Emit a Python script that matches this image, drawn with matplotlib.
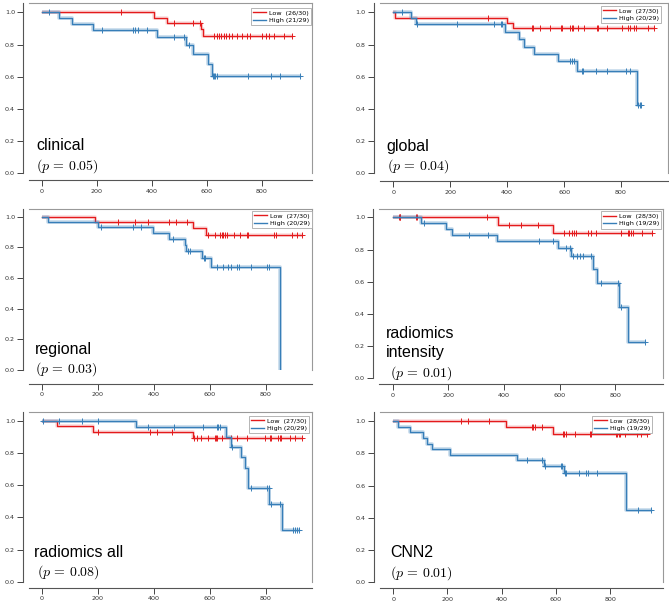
import numpy as np
import matplotlib
matplotlib.use("Agg")
import matplotlib.pyplot as plt

plt.rcParams['mathtext.fontset'] = 'cm'

# ---------------- data ----------------
panel_names = ["clinical", "global", "regional", "radiomics\nintensity", "radiomics all", "CNN2"]
panel_p = ["0.05", "0.04", "0.03", "0.01", "0.08", "0.01"]
low_labels = ["Low  (26/30)", "Low  (27/30)", "Low  (27/30)", "Low  (28/30)", "Low  (27/30)", "Low  (28/30)"]
high_labels = ["High (21/29)", "High (20/29)", "High (20/29)", "High (19/29)", "High (20/29)", "High (19/29)"]
x_ticks = [0, 200, 400, 600, 800]
y_ticks = [0.0, 0.2, 0.4, 0.6, 0.8, 1.0]

# clinical
clin_low_t = [0, 410, 455, 578, 588]
clin_low_s = [1.0, 0.967, 0.933, 0.895, 0.855]
clin_low_c = [287, 481, 549, 577, 627, 636, 645, 653, 662, 670, 680, 691, 710, 730, 745, 756, 800, 815, 828, 845, 880, 909]
clin_high_t = [0, 63, 111, 185, 421, 525, 549, 606, 620]
clin_high_s = [1.0, 0.965, 0.93, 0.893, 0.847, 0.795, 0.74, 0.677, 0.603]
clin_high_c = [28, 221, 333, 339, 352, 382, 481, 518, 537, 622, 627, 630, 639, 752, 833, 867, 939]

# global
glob_low_t = [0, 6, 400, 419]
glob_low_s = [1.0, 0.967, 0.933, 0.9]
glob_low_c = [334, 486, 492, 515, 550, 588, 591, 622, 626, 630, 650, 671, 717, 720, 749, 802, 825, 831, 847, 851, 896, 917]
glob_high_t = [0, 62, 81, 392, 443, 458, 494, 580, 646, 855]
glob_high_s = [1.0, 0.965, 0.93, 0.88, 0.835, 0.787, 0.742, 0.695, 0.637, 0.425]
glob_high_c = [29, 83, 222, 352, 377, 381, 622, 629, 634, 664, 666, 712, 749, 816, 832, 861, 866, 870]

# regional
reg_low_t = [0, 190, 539, 587]
reg_low_s = [1.0, 0.967, 0.925, 0.883]
reg_low_c = [274, 333, 379, 456, 480, 520, 593, 619, 637, 643, 649, 655, 661, 685, 708, 732, 736, 831, 836, 893, 911, 929]
reg_high_t = [0, 21, 202, 399, 456, 510, 516, 571, 604, 851]
reg_high_s = [1.0, 0.967, 0.933, 0.893, 0.853, 0.812, 0.775, 0.728, 0.673, 0.0]
reg_high_c = [212, 327, 353, 468, 521, 531, 578, 584, 625, 646, 664, 676, 696, 706, 746, 804, 811]

# radiomics intensity
int_low_t = [0, 380, 575]
int_low_s = [1.0, 0.955, 0.902]
int_low_c = [23, 25, 28, 83, 86, 338, 419, 460, 521, 617, 635, 643, 651, 657, 703, 713, 729, 820, 844, 849, 855, 865, 895, 930]
int_high_t = [0, 101, 192, 212, 376, 595, 641, 719, 735, 814, 847]
int_high_s = [1.0, 0.965, 0.929, 0.893, 0.855, 0.81, 0.762, 0.68, 0.595, 0.446, 0.223]
int_high_c = [113, 275, 341, 527, 577, 623, 638, 647, 663, 673, 685, 713, 747, 808, 819, 907]

# radiomics all
all_low_t = [0, 54, 185, 542]
all_low_s = [1.0, 0.967, 0.933, 0.895]
all_low_c = [202, 387, 411, 464, 545, 554, 569, 592, 619, 623, 627, 643, 676, 696, 732, 798, 815, 820, 843, 849, 854, 887, 905, 929]
all_high_t = [0, 337, 658, 676, 711, 726, 735, 812, 857]
all_high_s = [1.0, 0.96, 0.9, 0.84, 0.773, 0.71, 0.582, 0.485, 0.322]
all_high_c = [6, 63, 143, 202, 381, 473, 575, 625, 631, 637, 681, 746, 804, 811, 818, 851, 896, 905, 913, 920]

# CNN2
cnn_low_t = [0, 414, 590]
cnn_low_s = [1.0, 0.962, 0.92]
cnn_low_c = [248, 276, 354, 512, 517, 522, 549, 626, 630, 637, 670, 725, 731, 823, 827, 832, 837, 856, 900, 915, 937]
cnn_high_t = [0, 18, 61, 111, 123, 141, 209, 458, 555, 628, 857]
cnn_high_s = [1.0, 0.965, 0.93, 0.895, 0.86, 0.826, 0.792, 0.758, 0.72, 0.675, 0.45]
cnn_high_c = [495, 547, 559, 618, 624, 633, 636, 685, 712, 719, 752, 903, 952]

low_curves = [(clin_low_t, clin_low_s, clin_low_c), (glob_low_t, glob_low_s, glob_low_c),
              (reg_low_t, reg_low_s, reg_low_c), (int_low_t, int_low_s, int_low_c),
              (all_low_t, all_low_s, all_low_c), (cnn_low_t, cnn_low_s, cnn_low_c)]
high_curves = [(clin_high_t, clin_high_s, clin_high_c), (glob_high_t, glob_high_s, glob_high_c),
               (reg_high_t, reg_high_s, reg_high_c), (int_high_t, int_high_s, int_high_c),
               (all_high_t, all_high_s, all_high_c), (cnn_high_t, cnn_high_s, cnn_high_c)]

# ---------------- layout (pixels) ----------------
W, H = 669, 607
# left, right, top, bottom (pixel), xlim, ylim top, bottom spine offset px
layout = [
    (29.3, 312.3, 3.3, 173.3, (-45, 984), 1.056, 7),
    (380.0, 668.0, 3.3, 173.3, (-47, 965), 1.056, 8),
    (29.3, 312.3, 209.3, 370.0, (-44, 966), 1.048, 14),
    (379.3, 663.0, 209.3, 378.3, (-48, 971), 1.050, 6),
    (29.3, 312.3, 412.3, 581.7, (-44, 966), 1.054, 6),
    (380.0, 663.0, 412.0, 582.3, (-49, 995), 1.056, 6),
]
# legend upper-right corner (pixels)
legend_corner = [(311, 8), (661, 6), (312, 211), (661, 211.5), (309, 416), (652, 416)]
# name text: (left px, baseline of last line px), p text: (left px, center px)
name_pos = [(36, 150), (386.7, 151), (35, 354), (385.7, 357), (34, 556.7), (390, 557.3)]
p_pos = [(36, 166), (386.7, 165.7), (35, 369), (390, 373.3), (37.3, 571.7), (390, 572.7)]

RED = "#e41a1c"
BLUE = "#377eb8"

fig = plt.figure(figsize=(W / 100, H / 100), dpi=100)


def draw_curve(ax, t, s, c, color, halo):
    t = np.asarray(t, float)
    s = np.asarray(s, float)
    c = np.asarray(c, float)
    tend = max(t.max(), c.max() if len(c) else 0)
    tt = np.append(t, tend)
    ss = np.append(s, s[-1])
    ax.step(tt, ss, where='post', color=color, lw=2.8, alpha=halo, solid_capstyle='butt')
    ax.step(tt, ss, where='post', color=color, lw=1.0)
    idx = np.searchsorted(t, c, side='right') - 1
    ax.plot(c, s[idx], ls='none', marker='+', ms=4.5, mew=0.7, color=color)


for i in range(6):
    L, R, T, B, xl, ytop, boff = layout[i]
    ax = fig.add_axes([L / W, 1 - B / H, (R - L) / W, (B - T) / H])
    lt, ls_, lc = low_curves[i]
    ht, hs, hc = high_curves[i]
    draw_curve(ax, lt, ls_, lc, RED, 0.12)
    draw_curve(ax, ht, hs, hc, BLUE, 0.25)
    ax.plot([], [], color=RED, lw=1.0, label=low_labels[i])
    ax.plot([], [], color=BLUE, lw=1.0, label=high_labels[i])
    ax.set_xlim(*xl)
    ax.set_ylim(0, ytop)
    ax.set_xticks(x_ticks)
    ax.set_yticks(y_ticks)
    ax.set_xticklabels([str(v) for v in x_ticks])
    ax.set_yticklabels([f"{v:.1f}" for v in y_ticks])
    ax.tick_params(labelsize=4.6, length=4, width=0.7, color='#444444',
                   labelcolor='#333333', pad=2)
    ax.spines['left'].set_position(('outward', 6 * 0.72))
    ax.spines['bottom'].set_position(('outward', boff * 0.72))
    for sp in ['left', 'bottom']:
        ax.spines[sp].set_color('#555555')
        ax.spines[sp].set_linewidth(0.8)
    for sp in ['top', 'right']:
        ax.spines[sp].set_color('#999999')
        ax.spines[sp].set_linewidth(0.8)

    # legend
    lx, ly = legend_corner[i]
    bx = (lx - L) / (R - L)
    by = (B - ly) / (B - T)
    leg = ax.legend(loc='upper right', bbox_to_anchor=(bx, by), borderaxespad=0,
                    fontsize=4.6, handlelength=2.0, handletextpad=0.4,
                    labelspacing=0.25, borderpad=0.35, fancybox=False,
                    framealpha=1, edgecolor='#aaaaaa')
    leg.get_frame().set_linewidth(0.6)

    # name text
    nx, nyb = name_pos[i]
    ax.text((nx - L) / (R - L), (B - nyb) / (B - T), panel_names[i],
            transform=ax.transAxes, fontsize=11.5, family='Liberation Sans',
            ha='left', va='baseline', linespacing=1.3, color='black')
    px, pyc = p_pos[i]
    ax.text((px - L) / (R - L), (B - pyc) / (B - T),
            r"$(p\, =\, " + panel_p[i] + r")$",
            transform=ax.transAxes, fontsize=10, ha='left', va='center', color='black')

fig.savefig("out.png", dpi=100)
